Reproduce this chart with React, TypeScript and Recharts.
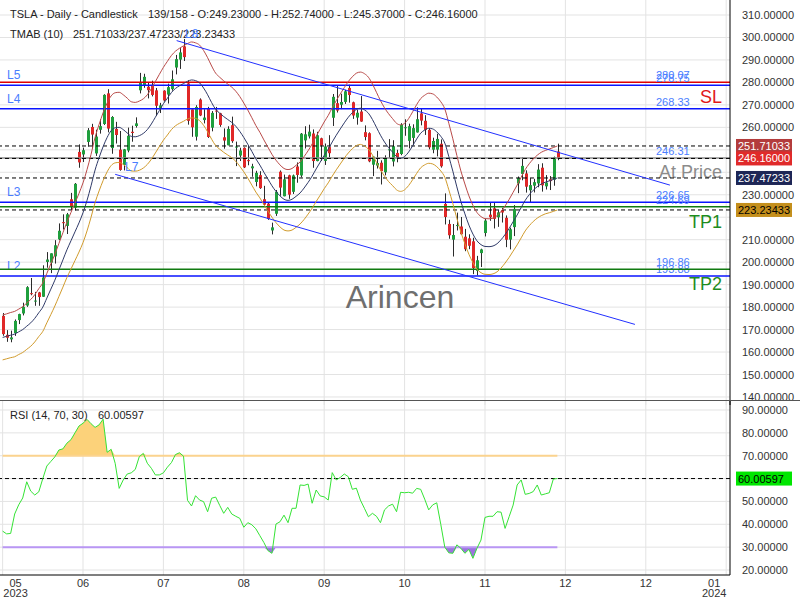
import React from 'react';
import {
  ComposedChart,
  Bar,
  Line,
  Area,
  XAxis,
  YAxis,
  CartesianGrid,
  ReferenceLine,
} from 'recharts';

const FONT = '"Liberation Sans", Arial, sans-serif';

// TSLA daily candles, 12 May 2023 .. 29 Nov 2023 (bar 139 of 158)
const opens = [
  176.07, 167.66, 165.65, 168.41, 174.22, 177.17, 180.7, 186.2, 182.56, 186.54,
  184.62, 200.1, 199.78, 202.59, 210.15, 217.8, 216.14, 228.0, 224.22, 249.07,
  247.94, 253.51, 260.17, 248.4, 258.92, 261.5, 275.13, 250.77, 259.29, 250.07,
  243.24, 249.7, 258.03, 260.6, 276.49, 278.82, 278.09, 278.43, 276.47, 268.65,
  276.33, 274.59, 277.01, 286.63, 290.15, 296.04, 279.56, 268.0, 255.85, 272.38,
  263.25, 268.31, 259.86, 267.48, 266.26, 255.57, 252.04, 260.97, 251.45, 247.45,
  250.87, 245.4, 241.77, 235.7, 238.73, 228.02, 226.06, 214.12, 221.55, 240.25,
  229.34, 238.66, 231.31, 242.58, 238.58, 254.2, 255.98, 257.26, 245.0, 255.14,
  245.07, 251.22, 264.27, 270.76, 270.07, 271.32, 277.55, 271.16, 264.35, 267.04,
  257.85, 257.4, 243.38, 242.98, 244.26, 240.02, 250.0, 244.81, 248.61, 248.14,
  260.0, 253.98, 255.31, 257.75, 266.2, 262.92, 258.9, 250.05, 250.1, 252.7,
  225.95, 217.01, 210.0, 216.5, 215.88, 211.32, 210.6, 209.28, 196.12, 204.04,
  212.97, 221.15, 223.98, 219.98, 223.15, 219.75, 210.03, 215.6, 235.03, 239.29,
  239.49, 232.0, 234.04, 235.04, 242.04, 233.75, 236.89, 236.68, 249.23,
];
const highs = [
  177.38, 169.76, 169.52, 174.5, 177.06, 181.95, 189.32, 192.96, 186.77, 186.78,
  198.6, 204.48, 203.95, 209.8, 217.25, 221.29, 221.91, 230.83, 235.23, 252.42,
  250.97, 259.68, 261.57, 258.95, 263.6, 274.75, 276.99, 265.0, 262.45, 258.37,
  250.39, 259.88, 260.74, 264.45, 284.25, 283.85, 279.97, 280.78, 277.52, 270.9,
  276.52, 279.45, 285.3, 292.23, 295.26, 299.29, 280.93, 268.0, 269.85, 272.9,
  268.04, 269.13, 267.25, 269.08, 266.47, 259.52, 260.49, 264.77, 253.65, 250.92,
  251.1, 251.8, 243.79, 240.66, 240.5, 233.97, 226.74, 217.58, 232.13, 240.82,
  238.98, 238.92, 239.0, 244.38, 257.48, 260.51, 261.18, 259.08, 258.0, 255.39,
  252.81, 256.52, 274.85, 278.39, 274.98, 276.71, 278.98, 271.44, 267.85, 273.93,
  260.86, 257.79, 247.1, 249.55, 245.33, 247.55, 254.77, 254.28, 250.02, 261.86,
  263.6, 261.65, 261.36, 268.94, 268.6, 265.41, 259.6, 255.4, 257.18, 254.63,
  230.61, 218.86, 216.98, 222.05, 220.1, 214.8, 212.41, 210.88, 202.8, 205.99,
  219.2, 226.37, 226.32, 223.12, 224.15, 220.8, 215.38, 225.4, 238.14, 246.7,
  240.88, 237.39, 237.1, 243.62, 244.01, 238.75, 238.33, 247.0, 252.74,
];
const lows = [
  167.23, 164.55, 164.35, 167.19, 172.45, 176.31, 180.11, 185.26, 180.58, 180.58,
  184.53, 197.53, 195.12, 199.37, 209.75, 214.52, 212.53, 223.2, 223.01, 242.02,
  244.59, 251.34, 250.5, 247.29, 257.21, 261.07, 257.78, 248.25, 252.8, 240.7,
  240.85, 248.89, 253.61, 259.89, 275.11, 277.6, 272.88, 273.77, 265.1, 266.37,
  271.46, 270.6, 276.31, 283.57, 286.01, 289.52, 261.2, 255.8, 254.12, 265.0,
  261.75, 255.3, 258.23, 263.78, 260.25, 250.49, 252.0, 253.11, 242.76, 245.01,
  241.9, 243.13, 238.02, 233.75, 232.61, 225.38, 218.83, 212.36, 220.58, 229.55,
  229.29, 228.18, 230.35, 235.35, 237.77, 250.59, 255.05, 242.01, 244.86, 245.06,
  243.27, 246.67, 260.61, 266.6, 268.1, 270.42, 271.0, 263.76, 261.2, 262.46,
  254.21, 244.48, 238.31, 241.66, 234.58, 238.65, 246.35, 242.62, 244.45, 247.6,
  256.25, 250.65, 252.05, 257.65, 260.9, 256.63, 250.22, 248.48, 247.08, 242.08,
  216.78, 210.42, 202.51, 214.11, 212.2, 204.88, 205.77, 194.67, 194.07, 197.85,
  211.45, 218.4, 215.0, 215.72, 217.64, 206.68, 205.69, 211.61, 230.72, 236.45,
  230.96, 226.54, 231.02, 233.34, 231.4, 232.33, 232.1, 234.01, 245.37,
];
const closes = [
  167.98, 166.35, 166.52, 173.86, 176.89, 180.14, 188.87, 185.77, 182.9, 184.47,
  193.17, 201.16, 203.93, 207.52, 213.97, 217.61, 221.31, 224.57, 234.86, 244.4,
  249.83, 258.71, 256.79, 255.9, 260.54, 274.45, 259.46, 264.61, 256.6, 241.05,
  250.21, 256.24, 257.5, 261.77, 279.82, 282.48, 276.54, 274.43, 269.61, 269.79,
  271.99, 277.9, 281.38, 290.38, 293.34, 291.26, 262.9, 260.02, 269.06, 265.28,
  264.35, 255.71, 266.44, 267.43, 261.07, 254.11, 259.32, 253.86, 251.45, 249.7,
  242.19, 245.34, 242.65, 239.76, 232.96, 225.6, 219.22, 215.49, 231.28, 233.19,
  236.86, 230.04, 238.59, 238.82, 257.18, 256.9, 258.08, 245.01, 256.49, 251.92,
  251.49, 248.5, 273.58, 267.48, 271.3, 276.04, 274.39, 265.28, 266.5, 262.59,
  255.7, 244.88, 246.99, 244.12, 240.5, 246.38, 250.22, 251.6, 246.53, 261.16,
  260.05, 260.53, 259.67, 263.62, 262.99, 258.87, 251.12, 253.92, 254.85, 242.68,
  220.11, 211.99, 212.08, 216.52, 212.42, 205.76, 207.3, 197.36, 200.84, 205.66,
  218.51, 219.96, 219.27, 222.18, 222.11, 209.98, 214.65, 223.71, 237.41, 242.84,
  233.59, 234.3, 235.6, 241.2, 234.21, 235.45, 236.08, 246.72, 246.16,
];

// TMAB (10) bands
const tmaUpper = [
  176.5, 177.0, 177.6, 178.1, 179.1, 180.2, 181.8, 183.4, 185.5, 188.2,
  190.8, 195.0, 199.3, 203.5, 208.3, 213.1, 217.8, 222.1, 226.3, 230.6,
  235.3, 241.2, 248.0, 255.5, 261.3, 266.5, 270.8, 274.0, 275.4, 275.6,
  274.5, 273.0, 271.4, 271.1, 271.7, 272.7, 274.5, 277.2, 280.4, 283.6,
  286.7, 289.4, 292.0, 293.9, 295.2, 296.3, 297.3, 298.0, 297.6, 296.6,
  294.2, 291.0, 287.3, 284.1, 282.3, 280.7, 279.3, 277.9, 276.1, 273.7,
  270.8, 267.7, 264.3, 260.8, 257.8, 254.4, 251.2, 248.0, 245.4, 243.3,
  241.7, 241.2, 241.7, 243.1, 244.6, 247.0, 249.6, 252.6, 256.0, 259.2,
  262.4, 265.3, 268.7, 271.9, 274.9, 277.7, 280.4, 282.5, 284.1, 284.6,
  283.9, 282.3, 279.3, 275.6, 271.9, 268.7, 266.1, 263.9, 261.8, 261.1,
  261.8, 263.9, 266.9, 270.1, 272.8, 274.3, 275.2, 274.9, 273.5, 271.4,
  268.2, 261.8, 254.9, 247.5, 240.6, 234.8, 229.5, 225.3, 222.1, 220.3,
  219.4, 219.3, 219.6, 220.7, 222.6, 225.0, 227.9, 231.1, 234.3, 237.8,
  241.2, 243.8, 245.9, 247.6, 248.9, 249.7, 250.4, 251.0, 251.71033,
];
const tmaMid = [
  166.5, 167.0, 167.5, 168.0, 169.0, 170.0, 171.5, 173.0, 175.0, 177.5,
  180.0, 184.0, 188.0, 192.0, 196.5, 201.0, 205.5, 209.5, 213.5, 217.5,
  222.0, 227.5, 234.0, 241.0, 246.5, 251.4, 255.5, 258.5, 259.8, 260.0,
  259.0, 257.5, 256.0, 255.8, 256.3, 257.3, 259.0, 261.5, 264.5, 267.5,
  270.5, 273.0, 275.5, 277.3, 278.5, 279.5, 280.5, 281.1, 280.8, 279.8,
  277.5, 274.5, 271.0, 268.0, 266.3, 264.8, 263.5, 262.2, 260.5, 258.2,
  255.5, 252.5, 249.3, 246.0, 243.2, 240.0, 237.0, 234.0, 231.5, 229.5,
  228.0, 227.5, 228.0, 229.3, 230.8, 233.0, 235.5, 238.3, 241.5, 244.5,
  247.5, 250.3, 253.5, 256.5, 259.3, 262.0, 264.5, 266.5, 268.0, 268.5,
  267.8, 266.3, 263.5, 260.0, 256.5, 253.5, 251.0, 249.0, 247.0, 246.3,
  247.0, 249.0, 251.8, 254.8, 257.4, 258.8, 259.6, 259.3, 258.0, 256.0,
  253.0, 247.0, 240.5, 233.5, 227.0, 221.5, 216.5, 212.5, 209.5, 207.8,
  207.0, 206.9, 207.2, 208.2, 210.0, 212.3, 215.0, 218.0, 221.0, 224.3,
  227.5, 230.0, 232.0, 233.6, 234.8, 235.6, 236.2, 236.8, 237.47233,
];
const tmaLower = [
  156.5, 157.0, 157.5, 157.9, 158.9, 159.8, 161.2, 162.6, 164.5, 166.9,
  169.2, 173.0, 176.7, 180.5, 184.7, 188.9, 193.2, 196.9, 200.7, 204.5,
  208.7, 213.9, 220.0, 226.5, 231.7, 236.3, 240.2, 243.0, 244.2, 244.4,
  243.5, 242.1, 240.6, 240.5, 240.9, 241.9, 243.5, 245.8, 248.6, 251.5,
  254.3, 256.6, 259.0, 260.7, 261.8, 262.7, 263.7, 264.2, 264.0, 263.0,
  260.9, 258.0, 254.7, 251.9, 250.3, 248.9, 247.7, 246.5, 244.9, 242.7,
  240.2, 237.4, 234.3, 231.2, 228.6, 225.6, 222.8, 220.0, 217.6, 215.7,
  214.3, 213.9, 214.3, 215.5, 217.0, 219.0, 221.4, 224.0, 227.0, 229.8,
  232.7, 235.3, 238.3, 241.1, 243.7, 246.3, 248.6, 250.5, 251.9, 252.4,
  251.7, 250.3, 247.7, 244.4, 241.1, 238.3, 235.9, 234.1, 232.2, 231.5,
  232.2, 234.1, 236.7, 239.5, 242.0, 243.3, 244.0, 243.7, 242.5, 240.6,
  237.8, 232.2, 226.1, 219.5, 213.4, 208.2, 203.5, 199.8, 196.9, 195.3,
  194.6, 194.5, 194.8, 195.7, 197.4, 199.6, 202.1, 204.9, 207.7, 210.8,
  213.9, 216.2, 218.1, 219.6, 220.7, 221.5, 222.0, 222.6, 223.23433,
];

// RSI (14)
const rsiValues = [
  37.0, 35.8, 36.0, 44.5, 48.5, 51.5, 58.6, 54.5, 52.8, 54.2,
  60.0, 65.5, 67.5, 69.5, 72.5, 73.0, 75.5, 77.0, 80.0, 83.0,
  84.2, 85.9, 84.0, 82.4, 83.5, 86.0, 71.5, 72.8, 66.7, 55.7,
  59.4, 62.0, 62.5, 64.0, 69.6, 71.0, 66.7, 64.5, 61.6, 61.6,
  62.5, 65.0, 67.0, 70.5, 71.3, 69.8, 50.5, 48.0, 52.5, 50.6,
  49.9, 45.5, 51.4, 51.9, 48.3, 44.8, 47.4, 44.5, 43.5, 42.6,
  38.7, 40.7, 39.8, 38.0, 35.0, 32.0, 28.5, 27.3, 40.1, 41.1,
  44.0, 40.7, 47.0, 47.0, 57.2, 57.0, 57.6, 49.2, 55.0, 52.4,
  52.0, 50.6, 62.6, 59.4, 60.5, 62.0, 60.8, 55.3, 55.8, 50.6,
  47.0, 43.3, 44.8, 43.5, 40.7, 46.3, 48.0, 48.8, 45.5, 54.0,
  53.8, 54.0, 53.6, 55.7, 55.3, 51.0, 46.3, 48.5, 49.4, 40.0,
  30.0, 27.5, 27.3, 31.0, 29.5, 27.3, 29.0, 25.1, 29.5, 33.1,
  43.0, 43.5, 43.5, 45.5, 45.3, 38.2, 43.3, 48.4, 57.2, 59.4,
  53.1, 53.5, 54.3, 57.2, 52.8, 53.3, 53.8, 59.8, 60.00597,
];

const monthLabels = ['05', '06', '07', '08', '09', '10', '11', '12', '12', '01'];
const yearLabels = ['2023', '', '', '', '', '', '', '', '', '2024'];
const gridBars = [0, 20, 40, 60, 80, 100, 120, 140, 160, 180];
const priceTicks = [140, 150, 160, 170, 180, 190, 200, 210, 220, 230, 240, 250, 260, 270, 280, 290, 300, 310];
const rsiTicks = [20, 30, 40, 50, 60, 70, 80, 90];

const slLevel = 280.07;
const lineLevels = [278.75, 268.33, 226.65, 193.88];
const lineTags = ['L5', 'L4', 'L3', 'L2'];
const targetLevels = [224.69, 196.86];
const targetTags = ['TP1', 'TP2'];
const atPriceLevel = 246.31;

// trend channel: L8 (upper) and L7 (lower)
const upperChannel = [{ x: 43.3, y: 298.6 }, { x: 166, y: 234.3 }];
const lowerChannel = [{ x: 28, y: 239.1 }, { x: 157.3, y: 172.3 }];

const last = closes.length - 1;
const X_DOMAIN: [number, number] = [-0.65, 180.95];
const PRICE_DOMAIN: [number, number] = [136.43, 316.68];
const RSI_DOMAIN: [number, number] = [17.81, 93.94];

// axis labels that sit under the last-value tags
const priceTagValues = [tmaUpper[last], closes[last], tmaMid[last], tmaLower[last]];
const rsiTagValues = [rsiValues[last]];

const priceData = opens.map((open, i) => ({
  i,
  open,
  high: highs[i],
  low: lows[i],
  close: closes[i],
  upper: tmaUpper[i],
  mid: tmaMid[i],
  lower: tmaLower[i],
}));

const rsiData = rsiValues.map((rsi, i) => ({
  i,
  rsi,
  ob: Math.max(rsi, 70),
  os: Math.min(rsi, 30),
}));

const Candle = (props: any) => {
  const { x, y, width, height, payload } = props;
  if (x == null || y == null || !payload) return null;
  const { open, close, high, low } = payload;
  const yTop = Math.min(y, y + height);
  const yBot = Math.max(y, y + height);
  const span = high - low || 1;
  const py = (v: number) => yTop + ((high - v) / span) * (yBot - yTop);
  const cx = Math.round(x + width / 2) + 0.5;
  const bTop = py(Math.max(open, close));
  const bBot = py(Math.min(open, close));
  const up = close >= open;
  return (
    <g>
      <line x1={cx} x2={cx} y1={yTop} y2={yBot} stroke="#2b2b2b" strokeWidth={1} />
      <rect x={cx - 1.5} y={bTop} width={3} height={Math.max(1, bBot - bTop)} fill={up ? '#1f9f3d' : '#e02828'} />
    </g>
  );
};

// tick label; skipped where a value tag covers it
const makeTick = (covered: number[], near: number) => (props: any) => {
  const { x, y, payload } = props;
  const v = Number(payload.value);
  if (covered.some((c) => Math.abs(c - v) < near)) return null;
  return (
    <text x={x + 4} y={y + 4} fontSize={11} fontFamily={FONT} fill="#333">
      {v.toFixed(5)}
    </text>
  );
};
const PriceTick = makeTick(priceTagValues, 4);
const RsiTick = makeTick(rsiTagValues, 4);

const MonthTick = (props: any) => {
  const { x, y, payload } = props;
  const k = gridBars.indexOf(payload.value);
  if (k < 0) return null;
  let cx = x;
  if (k === 0) cx = x + 13;
  if (k === gridBars.length - 1) cx = x - 12;
  return (
    <g fontFamily={FONT} fontSize={11} fill="#333">
      <text x={cx} y={y + 12} textAnchor="middle">{monthLabels[k]}</text>
      {yearLabels[k] ? <text x={cx} y={y + 22} textAnchor="middle">{yearLabels[k]}</text> : null}
    </g>
  );
};

const levelLabel = (valueText: string, tag: string | null, big: string | null, bigColor: string, bigDy: number) =>
  (props: any) => {
    const vb = props.viewBox || {};
    const x = vb.x ?? 0;
    const w = vb.width ?? 730;
    const y = vb.y ?? 0;
    return (
      <g fontFamily={FONT}>
        {tag ? <text x={x + 7} y={y - 6} fontSize={12} fill="#4a7dff">{tag}</text> : null}
        <text x={x + w - 74} y={y - 3} fontSize={11} fill="#4a7dff">{valueText}</text>
        {big ? (
          <text x={x + w - 8} y={y + bigDy} fontSize={18} textAnchor="end" fill={bigColor}>{big}</text>
        ) : null}
      </g>
    );
  };

const valueBox = (text: string, bg: string, fg: string) => (props: any) => {
  const vb = props.viewBox || {};
  const x = (vb.x ?? 0) + (vb.width ?? 730) + 6;
  const y = vb.y ?? 0;
  return (
    <g>
      <rect x={x} y={y - 7} width={56} height={14} fill={bg} />
      <text x={x + 2} y={y + 4} fontSize={11} fontFamily={FONT} fill={fg}>{text}</text>
    </g>
  );
};

const MARGIN = { top: 0, right: 0, bottom: 0, left: 0 };

export default function App() {
  return (
    <div style={{ position: 'absolute', left: 0, top: 0, width: 800, height: 600, background: '#fff', overflow: 'hidden' }}>
      {/* price panel */}
      <div style={{ position: 'absolute', left: 0, top: 0 }}>
        <ComposedChart width={800} height={405} data={priceData} margin={MARGIN}>
          <CartesianGrid stroke="#e3e3e3" verticalValues={gridBars} horizontalValues={priceTicks} />
          <XAxis dataKey="i" type="number" domain={X_DOMAIN} ticks={gridBars} hide allowDataOverflow />
          <YAxis
            orientation="right"
            width={70}
            domain={PRICE_DOMAIN}
            ticks={priceTicks}
            interval={0}
            allowDataOverflow
            axisLine={{ stroke: '#000' }}
            tickLine={false}
            tick={<PriceTick />}
          />

          <ReferenceLine y={slLevel} stroke="#e00000" strokeWidth={1.5} label={levelLabel(slLevel.toFixed(2), null, 'SL', '#e01818', 21)} />
          {lineLevels.map((v, k) => (
            <ReferenceLine key={lineTags[k]} y={v} stroke="#0a14ff" strokeWidth={1.5} label={levelLabel(v.toFixed(2), lineTags[k], null, '', 0)} />
          ))}
          {targetLevels.map((v, k) => (
            <ReferenceLine key={targetTags[k]} y={v} stroke="#117a11" strokeWidth={1.5} label={levelLabel(v.toFixed(2), null, targetTags[k], '#1e8c1e', 21)} />
          ))}
          <ReferenceLine y={atPriceLevel} stroke="#8c8c8c" strokeWidth={1.5} label={levelLabel(atPriceLevel.toFixed(2), null, 'At Price', '#8c8c8c', 20)} />

          {priceTagValues.map((v, k) => (
            <ReferenceLine key={`dash-${k}`} y={v} stroke="#000" strokeDasharray="4 3" />
          ))}

          <Line type="monotone" dataKey="upper" stroke="#b94a48" strokeWidth={1} dot={false} activeDot={false} isAnimationActive={false} />
          <Line type="monotone" dataKey="mid" stroke="#2f3a68" strokeWidth={1} dot={false} activeDot={false} isAnimationActive={false} />
          <Line type="monotone" dataKey="lower" stroke="#d19b2c" strokeWidth={1} dot={false} activeDot={false} isAnimationActive={false} />

          <Bar dataKey={(d: any) => [d.low, d.high]} barSize={3} shape={<Candle />} isAnimationActive={false} />

          <ReferenceLine segment={upperChannel} stroke="#2230ff" strokeWidth={1} />
          <ReferenceLine segment={lowerChannel} stroke="#2230ff" strokeWidth={1} />
        </ComposedChart>
      </div>

      {/* price panel: last-value tags, drawn over the axis labels */}
      <div style={{ position: 'absolute', left: 0, top: 0 }}>
        <ComposedChart width={800} height={405} data={priceData} margin={MARGIN}>
          <XAxis dataKey="i" type="number" domain={X_DOMAIN} hide allowDataOverflow />
          <YAxis orientation="right" width={70} domain={PRICE_DOMAIN} allowDataOverflow axisLine={false} tickLine={false} tick={false} />
          <ReferenceLine y={tmaUpper[last]} stroke="none" label={valueBox(tmaUpper[last].toFixed(5), '#b33c3c', '#fff')} />
          <ReferenceLine y={closes[last]} stroke="none" label={valueBox(closes[last].toFixed(5), '#e02a2a', '#fff')} />
          <ReferenceLine y={tmaMid[last]} stroke="none" label={valueBox(tmaMid[last].toFixed(5), '#1d2656', '#fff')} />
          <ReferenceLine y={tmaLower[last]} stroke="none" label={valueBox(tmaLower[last].toFixed(5), '#c48f1c', '#000')} />
        </ComposedChart>
      </div>

      {/* RSI panel */}
      <div style={{ position: 'absolute', left: 0, top: 400 }}>
        <ComposedChart width={800} height={200} data={rsiData} margin={{ top: 1, right: 0, bottom: 0, left: 0 }}>
          <CartesianGrid stroke="#e3e3e3" verticalValues={gridBars} horizontalValues={rsiTicks} />
          <XAxis
            dataKey="i"
            type="number"
            domain={X_DOMAIN}
            ticks={gridBars}
            interval={0}
            allowDataOverflow
            height={25}
            axisLine={{ stroke: '#000' }}
            tickLine={false}
            tickSize={0}
            tickMargin={0}
            tick={<MonthTick />}
          />
          <YAxis
            orientation="right"
            width={70}
            domain={RSI_DOMAIN}
            ticks={rsiTicks}
            interval={0}
            allowDataOverflow
            axisLine={{ stroke: '#000' }}
            tickLine={false}
            tick={<RsiTick />}
          />
          <Area type="linear" dataKey="ob" baseValue={70} stroke="none" fill="#fcd27a" fillOpacity={1} isAnimationActive={false} />
          <Area type="linear" dataKey="os" baseValue={30} stroke="none" fill="#9c74de" fillOpacity={1} isAnimationActive={false} />
          <ReferenceLine segment={[{ x: 0, y: 70 }, { x: last, y: 70 }]} stroke="#fbd38e" strokeWidth={2} />
          <ReferenceLine segment={[{ x: 0, y: 30 }, { x: last, y: 30 }]} stroke="#b996f4" strokeWidth={2} />
          <ReferenceLine y={rsiValues[last]} stroke="#000" strokeDasharray="4 3" />
          <Line type="linear" dataKey="rsi" stroke="#35e335" strokeWidth={1} dot={false} activeDot={false} isAnimationActive={false} />
        </ComposedChart>
      </div>

      {/* RSI panel: last-value tag */}
      <div style={{ position: 'absolute', left: 0, top: 400 }}>
        <ComposedChart width={800} height={200} data={rsiData} margin={{ top: 1, right: 0, bottom: 0, left: 0 }}>
          <XAxis dataKey="i" type="number" domain={X_DOMAIN} height={25} axisLine={false} tickLine={false} tick={false} allowDataOverflow />
          <YAxis orientation="right" width={70} domain={RSI_DOMAIN} allowDataOverflow axisLine={false} tickLine={false} tick={false} />
          <ReferenceLine y={rsiValues[last]} stroke="none" label={valueBox(rsiValues[last].toFixed(5), '#00e600', '#000')} />
        </ComposedChart>
      </div>

      <svg width={800} height={600} style={{ position: 'absolute', left: 0, top: 0, pointerEvents: 'none' }} fontFamily={FONT}>
        <text x={10} y={18} fontSize={11} fill="#222">TSLA - Daily - Candlestick</text>
        <text x={148} y={18} fontSize={11} fill="#222">
          {`${last + 1}/158 - O:${opens[last].toFixed(5)} - H:${highs[last].toFixed(5)} - L:${lows[last].toFixed(5)} - C:${closes[last].toFixed(5)}`}
        </text>
        <text x={10} y={38} fontSize={11} fill="#222">TMAB (10)</text>
        <text x={73} y={38} fontSize={11} fill="#222">
          {`${tmaUpper[last].toFixed(5)}/${tmaMid[last].toFixed(5)}/${tmaLower[last].toFixed(5)}`}
        </text>
        <text x={185} y={38} fontSize={12} fill="#4a7dff">L8</text>
        <text x={125} y={171} fontSize={12} fill="#4a7dff">L7</text>
        <text x={400} y={308} fontSize={32} textAnchor="middle" fill="#6f6f6f">Arincen</text>
        <text x={10} y={419} fontSize={11} fill="#222">RSI (14, 70, 30)</text>
        <text x={98} y={419} fontSize={11} fill="#222">{rsiValues[last].toFixed(5)}</text>
        <line x1={0} x2={800} y1={400.5} y2={400.5} stroke="#555" strokeWidth={1} />
      </svg>
    </div>
  );
}
